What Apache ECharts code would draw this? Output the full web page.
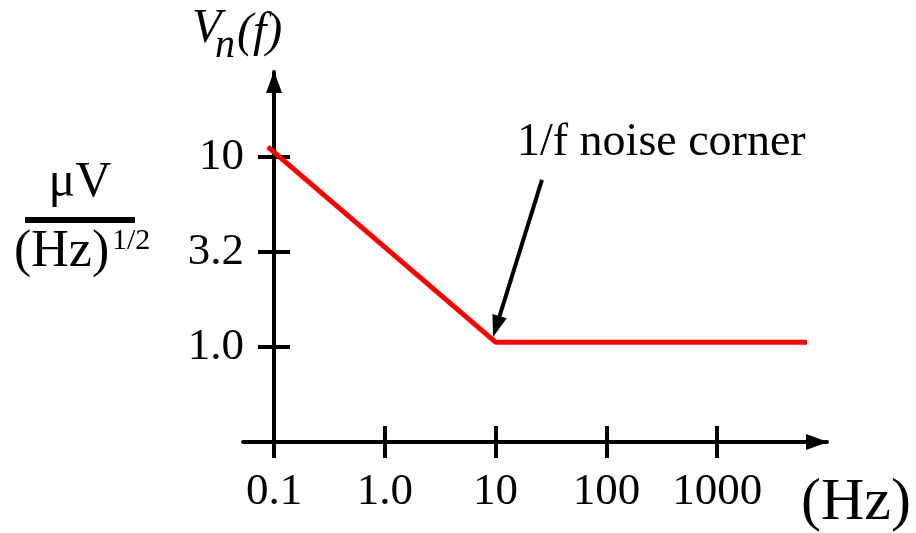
<!DOCTYPE html>
<html><head><meta charset="utf-8">
<script src="https://cdn.jsdelivr.net/npm/echarts@6/dist/echarts.min.js"></script>
<style>html,body{margin:0;padding:0;background:#fff}#c{width:916px;height:533px}</style>
</head><body><div id="c"></div>
<script>
// ---- data ----
const xTickValues = [0.1, 1, 10, 100, 1000];
const xTickLabels = ['0.1', '1.0', '10', '100', '1000'];
const yTickValues = [1, 3.1623, 10];
const yTickLabels = ['1.0', '3.2', '10'];
const noiseFreq = [0.088, 10, 6460];      // Hz
const noiseVn = [11.3, 1.06, 1.06];       // uV / sqrt(Hz)
const arrowFrom = [26.2, 7.57];
const arrowTo = [10.15, 1.28];
const annotationText = '1/f noise corner';
const xRange = [0.0525, 9795];
const yRange = [0.31623, 28.0];

const FONT = 'Liberation Serif';
const chart = echarts.init(document.getElementById('c'), null, {renderer: 'canvas'});

function nearestLabel(v, vals, labels) {
  let best = 0, bd = Infinity;
  vals.forEach((t, i) => { const d = Math.abs(Math.log10(v) - Math.log10(t)); if (d < bd) { bd = d; best = i; } });
  return bd < 0.05 ? labels[best] : '';
}

const axisLineStyle = {color: '#000', width: 4};
const seriesData = noiseFreq.map((f, i) => [f, noiseVn[i]]);

const option = {
  animation: false,
  backgroundColor: '#fff',
  grid: {left: 243, right: 89, top: 72, bottom: 91, containLabel: false},
  xAxis: [
    {
      type: 'log', logBase: 10, min: xRange[0], max: xRange[1], position: 'bottom',
      axisLine: {show: true, onZero: false, lineStyle: axisLineStyle,
        symbol: ['none', 'triangle'], symbolSize: [16, 22], symbolOffset: [0, -10]},
      axisTick: {show: true, inside: false, length: 16, lineStyle: {color: '#000', width: 4}, customValues: xTickValues},
      axisLabel: {show: true, customValues: xTickValues, margin: 28, color: '#000',
        fontFamily: FONT, fontSize: 45,
        formatter: v => nearestLabel(v, xTickValues, xTickLabels)},
      splitLine: {show: false}, minorTick: {show: false}
    },
    {
      type: 'log', logBase: 10, min: xRange[0], max: xRange[1], position: 'bottom',
      axisLine: {show: false, onZero: false},
      axisTick: {show: true, inside: true, length: 16, lineStyle: {color: '#000', width: 4}, customValues: xTickValues},
      axisLabel: {show: false}, splitLine: {show: false}
    }
  ],
  yAxis: [
    {
      type: 'log', logBase: 10, min: yRange[0], max: yRange[1], position: 'left', offset: -31,
      axisLine: {show: true, onZero: false, lineStyle: axisLineStyle,
        symbol: ['none', 'triangle'], symbolSize: [16, 22], symbolOffset: [0, -10]},
      axisTick: {show: true, inside: false, length: 16, lineStyle: {color: '#000', width: 4}, customValues: yTickValues},
      axisLabel: {show: true, customValues: yTickValues, margin: 30, color: '#000',
        fontFamily: FONT, fontSize: 45,
        formatter: v => nearestLabel(v, yTickValues, yTickLabels)},
      splitLine: {show: false}, minorTick: {show: false}
    },
    {
      type: 'log', logBase: 10, min: yRange[0], max: yRange[1], position: 'left', offset: -31,
      axisLine: {show: false, onZero: false},
      axisTick: {show: true, inside: true, length: 16, lineStyle: {color: '#000', width: 4}, customValues: yTickValues},
      axisLabel: {show: false}, splitLine: {show: false}
    }
  ],
  series: [{
    type: 'line', xAxisIndex: 0, yAxisIndex: 0,
    data: seriesData, symbol: 'none', clip: false,
    lineStyle: {color: '#ff0000', width: 5},
    markLine: {
      silent: true, animation: false,
      symbol: ['none', 'triangle'], symbolSize: [15, 22],
      lineStyle: {color: '#000', width: 4, type: 'solid'},
      label: {show: false},
      data: [[{coord: arrowFrom}, {coord: arrowTo}]]
    }
  }],
  graphic: [
    {type: 'text', x: 517, y: 143, style: {text: annotationText, font: '46px "' + FONT + '"', fill: '#000', verticalAlign: 'middle', align: 'left'}},
    {type: 'text', x: 192, y: 29, style: {text: 'V', font: 'italic 48px "' + FONT + '"', fill: '#000', verticalAlign: 'middle'}},
    {type: 'text', x: 215, y: 46, style: {text: 'n', font: 'italic 40px "' + FONT + '"', fill: '#000', verticalAlign: 'middle'}},
    {type: 'text', x: 237, y: 33, style: {text: '(f)', font: 'italic 48px "' + FONT + '"', fill: '#000', verticalAlign: 'middle'}},
    {type: 'text', x: 80, y: 183, style: {text: 'μV', font: '50px "' + FONT + '"', fill: '#000', verticalAlign: 'middle', align: 'center'}},
    {type: 'rect', shape: {x: 25, y: 217, width: 110, height: 6}, style: {fill: '#000'}},
    {type: 'text', x: 14, y: 252, style: {text: '(Hz)', font: '52px "' + FONT + '"', fill: '#000', verticalAlign: 'middle'}},
    {type: 'text', x: 112, y: 241, style: {text: '1/2', font: '30px "' + FONT + '"', fill: '#000', verticalAlign: 'middle'}},
    {type: 'text', x: 801, y: 503, style: {text: '(Hz)', font: '60px "' + FONT + '"', fill: '#000', verticalAlign: 'middle'}}
  ]
};
chart.setOption(option);
</script>
</body></html>
